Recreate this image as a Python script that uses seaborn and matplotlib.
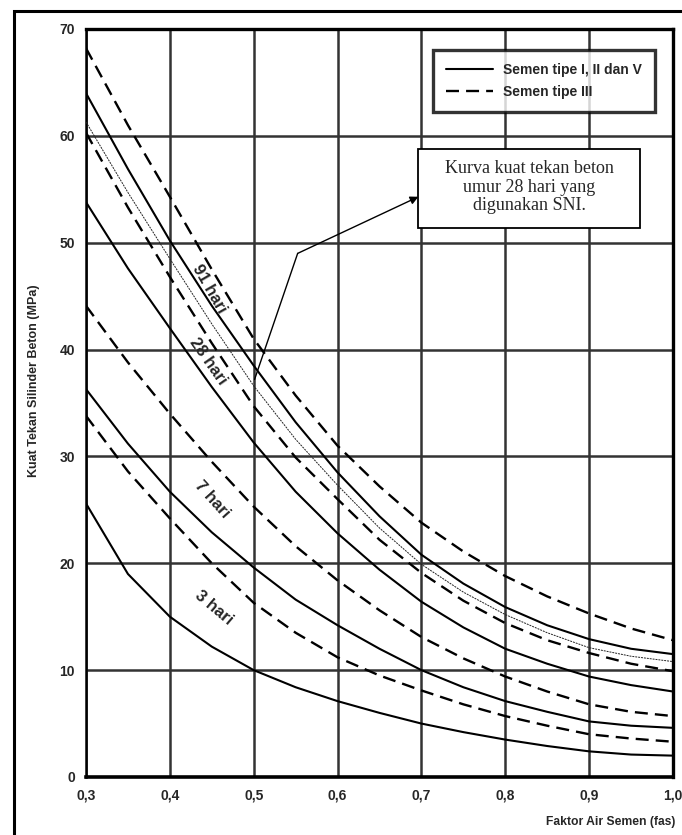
import matplotlib
matplotlib.use("Agg")
import matplotlib.pyplot as plt
from matplotlib.lines import Line2D
from matplotlib.patches import Rectangle
import seaborn as sns

# water-cement ratio (fas) sample points
fas = [0.30, 0.35, 0.40, 0.45, 0.50, 0.55, 0.60, 0.65, 0.70, 0.75, 0.80, 0.85, 0.90, 0.95, 1.00]

# compressive strength (MPa) per age; tipe1 = cement type I, II, V, tipe3 = cement type III
tipe3_91 = [68.2, 61.0, 54.3, 47.5, 41.0, 35.7, 31.0, 27.2, 23.8, 21.1, 18.8, 16.9, 15.3, 13.9, 12.8]
tipe1_91 = [64.0, 56.9, 50.2, 44.1, 38.5, 33.2, 28.5, 24.4, 20.8, 18.1, 15.9, 14.2, 12.9, 12.0, 11.5]
sni_28 = [61.3, 54.7, 48.5, 42.4, 36.6, 31.6, 27.3, 23.3, 19.9, 17.3, 15.2, 13.5, 12.1, 11.3, 10.8]
tipe3_28 = [60.3, 53.3, 46.8, 40.6, 34.7, 29.9, 26.0, 22.2, 19.1, 16.5, 14.4, 12.8, 11.6, 10.6, 9.9]
tipe1_28 = [53.8, 47.6, 42.0, 36.5, 31.3, 26.7, 22.8, 19.4, 16.4, 14.0, 12.0, 10.6, 9.4, 8.6, 8.0]
tipe3_7 = [44.1, 38.8, 34.0, 29.5, 25.3, 21.6, 18.4, 15.6, 13.1, 11.1, 9.4, 8.0, 6.8, 6.1, 5.7]
tipe1_7 = [36.3, 31.2, 26.7, 22.9, 19.6, 16.6, 14.2, 12.0, 10.0, 8.4, 7.1, 6.1, 5.2, 4.8, 4.6]
tipe3_3 = [33.8, 28.6, 24.2, 20.0, 16.3, 13.5, 11.2, 9.5, 8.1, 6.8, 5.7, 4.8, 4.0, 3.6, 3.3]
tipe1_3 = [25.6, 19.0, 15.0, 12.2, 10.0, 8.4, 7.1, 6.0, 5.0, 4.2, 3.5, 2.9, 2.4, 2.1, 2.0]

x_ticks = [0.3, 0.4, 0.5, 0.6, 0.7, 0.8, 0.9, 1.0]
x_tick_labels = ["0,3", "0,4", "0,5", "0,6", "0,7", "0,8", "0,9", "1,0"]
y_ticks = [0, 10, 20, 30, 40, 50, 60, 70]

age_labels = ["91 hari", "28 hari", "7 hari", "3 hari"]
age_label_pos = [(0.447, 45.7), (0.445, 38.9), (0.451, 26.0), (0.452, 15.8)]
age_label_rot = [-60, -55, -48, -40]

legend_labels = ["Semen tipe I, II dan V", "Semen tipe III"]
note_text = "Kurva kuat tekan beton\numur 28 hari yang\ndigunakan SNI."

sns.set_style("white")
SANS = ["Liberation Sans", "DejaVu Sans"]
SERIF = ["Liberation Serif", "DejaVu Serif"]
plt.rcParams["font.family"] = SANS

W, H = 682, 835
fig = plt.figure(figsize=(W / 100, H / 100), dpi=100)
fig.patch.set_facecolor("white")
ax = fig.add_axes([86 / W, 58 / H, 587 / W, 748 / H])

# outer frame around the whole figure (right and bottom sides run off the page)
fig.patches.append(Rectangle((14 / W, -0.02), (684 - 14) / W, (835 - 11) / H + 0.02,
                             transform=fig.transFigure, fill=False,
                             edgecolor="black", linewidth=2.2, clip_on=False))

dash = (0, (5.5, 3))
solid_kw = dict(color="black", linewidth=1.5, linestyle="-")
dash_kw = dict(color="black", linewidth=1.7, linestyle=dash)

curves = [
    (tipe3_91, dash_kw), (tipe1_91, solid_kw),
    (tipe3_28, dash_kw), (tipe1_28, solid_kw),
    (tipe3_7, dash_kw), (tipe1_7, solid_kw),
    (tipe3_3, dash_kw), (tipe1_3, solid_kw),
]
for vals, kw in curves:
    sns.lineplot(x=fas, y=vals, ax=ax, legend=False, zorder=3, **kw)

# thin SNI reference curve for 28 days
sns.lineplot(x=fas, y=sni_28, ax=ax, legend=False, color="#222222",
             linewidth=0.7, linestyle=(0, (2, 1)), zorder=3)

ax.set_xlim(0.3, 1.0)
ax.set_ylim(0, 70)
ax.set_xticks(x_ticks)
ax.set_xticklabels(x_tick_labels)
ax.set_yticks(y_ticks)
ax.grid(True, color="#333333", linewidth=1.8, zorder=1)
ax.set_axisbelow(True)
for side, lw in [("left", 1.8), ("bottom", 2.6), ("top", 2.4), ("right", 2.4)]:
    ax.spines[side].set_visible(True)
    ax.spines[side].set_color("black")
    ax.spines[side].set_linewidth(lw)
ax.tick_params(axis="both", direction="out", length=6, width=1.3, color="black",
               labelsize=10, pad=2)
for lab in ax.get_xticklabels() + ax.get_yticklabels():
    lab.set_fontweight("bold")

ax.set_xlabel("")
ax.set_ylabel("Kuat Tekan Silinder Beton (MPa)", fontsize=9, fontweight="bold")
ax.yaxis.set_label_coords(-0.078, 0.53)
fig.text(675 / W, 1 - 822 / H, "Faktor Air Semen (fas)", ha="right", va="center",
         fontsize=8.7, fontweight="bold")

# age labels along the curves
for txt, (xx, yy), rot in zip(age_labels, age_label_pos, age_label_rot):
    ax.text(xx, yy, txt, rotation=rot, rotation_mode="anchor", ha="center", va="center",
            fontsize=12, fontweight="bold", zorder=4)

# legend box
handles = [Line2D([], [], **solid_kw), Line2D([], [], **dash_kw)]
leg = ax.legend(handles, legend_labels, loc="upper right", bbox_to_anchor=(0.969, 0.972),
                borderaxespad=0, frameon=True, fancybox=False, handlelength=3.4,
                prop=dict(family=SANS, weight="bold", size=10),
                borderpad=0.95, labelspacing=0.55, handletextpad=0.7)
leg.get_frame().set_edgecolor("black")
leg.get_frame().set_linewidth(2.4)
leg.set_zorder(6)

# annotation box and leader arrow pointing at the SNI curve
ax.add_patch(Rectangle((0.6964, 51.38), 0.9607 - 0.6964, 58.77 - 51.38, facecolor="white",
                       edgecolor="black", linewidth=1.3, zorder=6))
ax.text(0.8286, 55.2, note_text, ha="center", va="center", family=SERIF, fontsize=13,
        linespacing=1.1, zorder=7)
ax.plot([0.501, 0.5524], [37.2, 49.0], color="black", linewidth=1.0, zorder=5)
ax.annotate("", xy=(0.6964, 54.3), xytext=(0.5524, 49.0),
            arrowprops=dict(arrowstyle="-|>", color="black", lw=1.0, mutation_scale=12,
                            shrinkA=0, shrinkB=0), zorder=5)

fig.savefig("out.png", dpi=100, facecolor="white")
